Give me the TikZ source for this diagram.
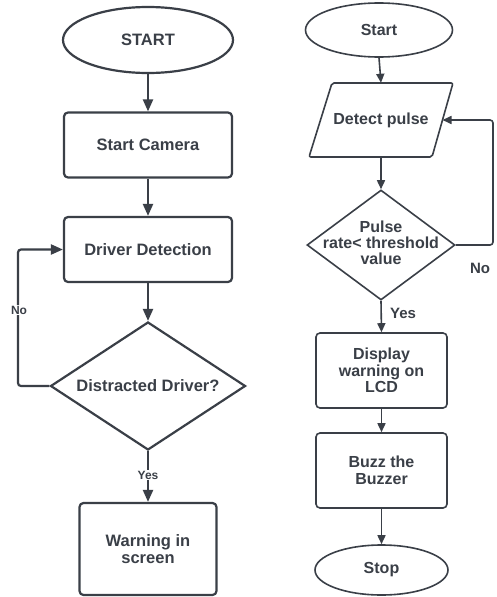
\documentclass[tikz,border=0pt]{standalone}
\usepackage{fontspec}
\setmainfont{Liberation Sans}
\usetikzlibrary{shapes.geometric,arrows.meta}
\definecolor{ink}{HTML}{3A3F47}
\begin{document}
\begin{tikzpicture}[x=1pt,y=-1pt,
  lfont/.style={font=\bfseries\fontsize{16.5}{16.5}\selectfont, text=ink, align=center},
  rfont/.style={font=\bfseries\fontsize{16}{16.5}\selectfont, text=ink, align=center},
  lbox/.style={draw=ink, line width=2.2pt, rounded corners=4pt, inner sep=0pt, lfont},
  rbox/.style={draw=ink, line width=1.6pt, rounded corners=4pt, inner sep=0pt, rfont},
  lterm/.style={ellipse, draw=ink, line width=2.2pt, inner sep=0pt, lfont},
  rterm/.style={ellipse, draw=ink, line width=1.6pt, inner sep=0pt, rfont},
  ldia/.style={diamond, draw=ink, line width=2.2pt, inner sep=0pt},
  rdia/.style={diamond, draw=ink, line width=1.6pt, inner sep=0pt},
  larr/.style={draw=ink, line width=2.2pt, -{Triangle[length=12pt,width=10pt]}},
  rarr/.style={draw=ink, line width=1.6pt, -{Triangle[length=9pt,width=8pt]}},
  llab/.style={font=\bfseries\fontsize{12}{12}\selectfont, text=ink, fill=white, inner sep=1pt},
  rlab/.style={font=\bfseries\fontsize{15}{15}\selectfont, text=ink, inner sep=1pt}
]
\useasboundingbox (0,0) rectangle (496,597);
\fill[white] (0,0) rectangle (496,597);

% ---------- left flowchart ----------
\node[lterm, minimum width=170pt, minimum height=66pt] (s1) at (148,40) {START};
\node[lbox, minimum width=168pt, minimum height=65pt] (cam) at (148,145) {Start Camera};
\node[lbox, minimum width=168pt, minimum height=65pt] (det) at (148,249.5) {Driver Detection};
\node[ldia, minimum width=195pt, minimum height=128pt] (dd) at (148,386) {};
\node[lfont] (ddt) at (dd.center) {Distracted Driver?};
\node[lbox, minimum width=137pt, minimum height=92pt] (warn) at (148,549) {Warning in\\screen};

\draw[larr] (s1.south) -- (cam.north);
\draw[larr] (cam.south) -- (det.north);
\draw[larr] (det.south) -- (dd.north);
\coordinate (nl) at (18,386);
\draw[larr, rounded corners=3pt] (dd.west) -- (nl) |- (det.west);
\node[llab] (nolab) at (19,310) {No};
\draw[larr] (dd.south) -- (warn.north);
\node[llab] (yeslab) at (148,475) {Yes};

% ---------- right flowchart ----------
\node[rterm, minimum width=147pt, minimum height=54pt] (s2) at (379,30) {Start};
\node[inner sep=0pt, minimum width=121pt, minimum height=74pt] (pp) at (381,120) {};
\draw[draw=ink, line width=1.6pt, rounded corners=2pt] (332,83) -- (453,83) -- (432,157) -- (309,157) -- cycle;
\node[rfont] (ppt) at (pp.center) {Detect pulse};
\node[rdia, minimum width=148pt, minimum height=110pt] (d2) at (381,245) {};
\node[rfont, font=\bfseries\fontsize{16}{16}\selectfont] (d2t) at (381,242.5) {Pulse\\rate< threshold\\value};
\node[rbox, minimum width=131pt, minimum height=75pt] (lcd) at (381.5,370.5) {Display\\warning on\\LCD};
\node[rbox, minimum width=131pt, minimum height=75pt] (buzz) at (381.5,470.5) {Buzz the\\Buzzer};
\node[rterm, minimum width=133pt, minimum height=50pt] (stop) at (381.5,570) {Stop};

\draw[rarr] (s2.south) -- (pp.north);
\draw[rarr] (pp.south) -- (d2.north);
\coordinate (nr) at (493,245);
\coordinate (ppr) at (442.5,120);
\draw[rarr, rounded corners=3pt] (d2.east) -- (nr) |- (ppr);
\node[rlab] (nolab2) at (480,268) {No};
\draw[rarr] (d2.south) -- (lcd.north);
\node[rlab] (yeslab2) at (403,313) {Yes};
\draw[rarr] (lcd.south) -- (buzz.north);
\draw[rarr] (buzz.south) -- (stop.north);
\end{tikzpicture}
\end{document}
